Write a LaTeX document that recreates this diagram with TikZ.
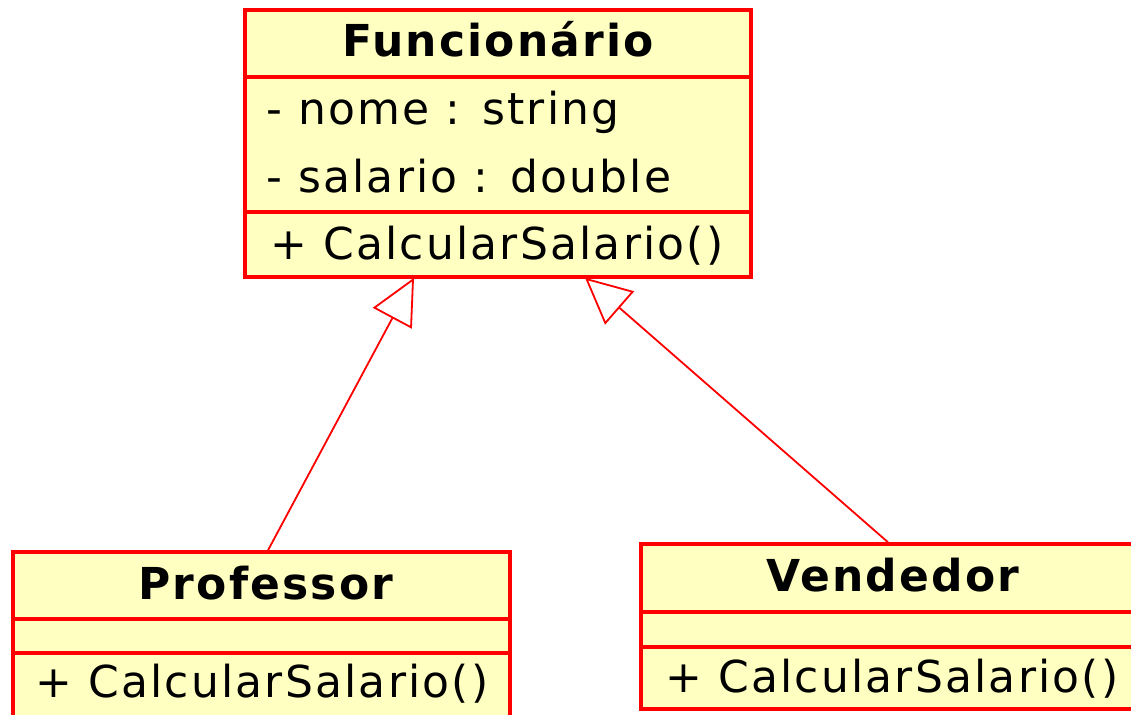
\documentclass[tikz,border=0pt]{standalone}
\usepackage{fontspec}
\setmainfont{DejaVu Sans}[LetterSpace=5]
\usetikzlibrary{arrows.meta}
\definecolor{umlred}{RGB}{255,0,0}
\definecolor{umlfill}{RGB}{255,255,194}
\begin{document}
\begin{tikzpicture}[x=1pt,y=-1pt,
  classbox/.style={draw=umlred, fill=umlfill, line width=3.5pt, rectangle, inner sep=0pt},
  divider/.style={draw=umlred, line width=3.5pt},
  title/.style={anchor=base, inner sep=0pt, font=\fontsize{44}{52}\selectfont\bfseries},
  member/.style={anchor=base west, inner sep=0pt, font=\fontsize{44}{52}\selectfont},
  inherits/.style={draw=umlred, line width=1.8pt,
    -{Triangle[open, length=46pt, width=44pt]}}]
\useasboundingbox (0,0) rectangle (1131,714);
\clip (0,0) rectangle (1131,714);

% class Funcionario
\node[classbox, minimum width=506pt, minimum height=267pt] (func) at (498,143.5) {};
\draw[divider] (func.west |- 0,77) -- (func.east |- 0,77);
\draw[divider] (func.west |- 0,212) -- (func.east |- 0,212);
\node[title] (funcname) at (498,57) {Funcionário};
\node[member] (funcattr1) at (266,125) {- nome : string};
\node[member] (funcattr2) at (266,192) {- salario : double};
\node[member] (funcop) at (270,259) {+ CalcularSalario()};

% class Professor
\node[classbox, minimum width=497pt, minimum height=175pt] (prof) at (261.5,639.5) {};
\draw[divider] (prof.west |- 0,619) -- (prof.east |- 0,619);
\draw[divider] (prof.west |- 0,653) -- (prof.east |- 0,653);
\node[title] (profname) at (266,599) {Professor};
\node[member] (profop) at (35,697) {+ CalcularSalario()};

% class Vendedor
\node[classbox, minimum width=504pt, minimum height=165pt] (vend) at (893,626.5) {};
\draw[divider] (vend.west |- 0,612) -- (vend.east |- 0,612);
\draw[divider] (vend.west |- 0,647) -- (vend.east |- 0,647);
\node[title] (vendname) at (893,591) {Vendedor};
\node[member] (vendop) at (665,692) {+ CalcularSalario()};

% generalisation arrows
\coordinate (fa) at ([xshift=-84pt,yshift=1pt]func.south);
\coordinate (fb) at ([xshift=87pt,yshift=1pt]func.south);
\draw[inherits] ([xshift=6.5pt]prof.north) -- (fa);
\draw[inherits] ([xshift=-5pt]vend.north) -- (fb);
\end{tikzpicture}
\end{document}
